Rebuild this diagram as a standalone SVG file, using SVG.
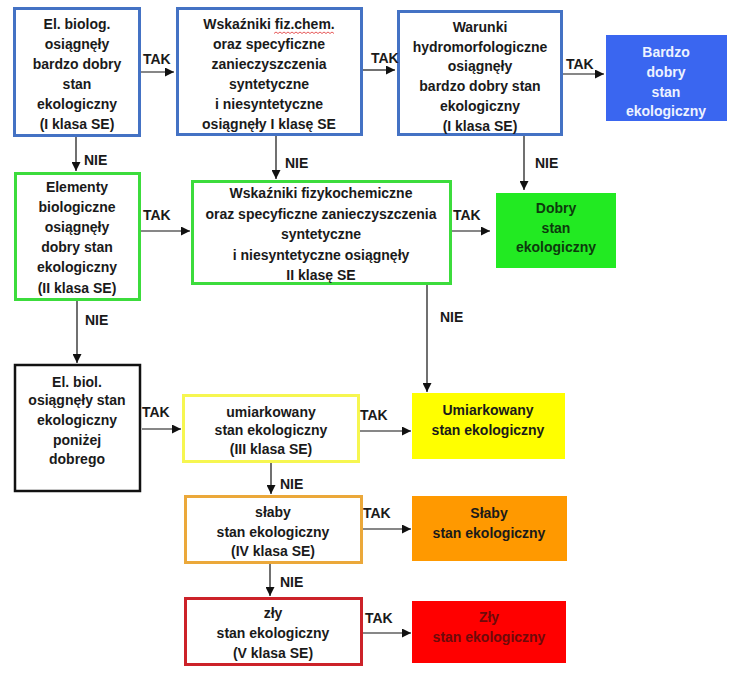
<svg xmlns="http://www.w3.org/2000/svg" width="741" height="675" viewBox="0 0 741 675">
<defs>
<style>
text{font-family:"Liberation Sans",Arial,sans-serif;font-weight:bold;font-size:14px;fill:#1a1a1a;text-anchor:middle}
.lbl{text-anchor:start}
.box{fill:#fff;stroke-width:3}
.blue{stroke:#4472c4}
.green{stroke:#3cdc3c}
.black{stroke:#111;stroke-width:2.5}
.yellow{stroke:#f6f650}
.orange{stroke:#eba83a}
.red{stroke:#cc2229}
.conn line{stroke:#111;stroke-width:1.2;marker-end:url(#ah)}
</style>
<marker id="ah" viewBox="0 0 10 10" refX="10" refY="5" markerWidth="9" markerHeight="9" markerUnits="userSpaceOnUse" orient="auto"><path d="M0,0L10,5L0,10z" fill="#111"/></marker>
</defs>
<rect width="741" height="675" fill="#fff"/>

<g id="n1"><rect class="box blue" x="14.5" y="8.5" width="125" height="127"/>
<text x="77" y="29">El. biolog.</text><text x="77" y="49">osiągnęły</text><text x="77" y="69">bardzo dobry</text><text x="77" y="89">stan</text><text x="77" y="109">ekologiczny</text><text x="77" y="129">(I klasa SE)</text></g>

<g id="n2"><rect class="box blue" x="177.5" y="8.5" width="184" height="126"/>
<text x="269" y="29">Wskaźniki fiz.chem.</text><text x="269" y="49">oraz specyficzne</text><text x="269" y="69">zanieczyszczenia</text><text x="269" y="89">syntetyczne</text><text x="269" y="109">i niesyntetyczne</text><text x="269" y="129">osiągnęły I klasę SE</text>
<path d="M274,33.5 l2,-1.5 l2,1.5 l2,-1.5 l2,1.5 l2,-1.5 l2,1.5 l2,-1.5 l2,1.5 l2,-1.5 l2,1.5 l2,-1.5 l2,1.5 l2,-1.5 l2,1.5 l2,-1.5 l2,1.5 l2,-1.5 l2,1.5 l2,-1.5 l2,1.5 l2,-1.5 l2,1.5 l2,-1.5 l2,1.5 l2,-1.5 l2,1.5 l2,-1.5 l2,1.5 l2,-1.5 l2,1.5" fill="none" stroke="#e03030" stroke-width="0.8"/></g>

<g id="n3"><rect class="box blue" x="398.5" y="11.5" width="163" height="123"/>
<text x="480" y="32">Warunki</text><text x="480" y="52">hydromorfologiczne</text><text x="480" y="71">osiągnęły</text><text x="480" y="91">bardzo dobry stan</text><text x="480" y="111">ekologiczny</text><text x="480" y="131">(I klasa SE)</text></g>

<g id="n4"><rect x="606" y="35" width="121" height="86" fill="#3a66f0"/>
<text x="666" y="57" style="fill:#eef3ff">Bardzo</text><text x="666" y="77" style="fill:#eef3ff">dobry</text><text x="666" y="97" style="fill:#eef3ff">stan</text><text x="666" y="116" style="fill:#eef3ff">ekologiczny</text></g>

<g id="n5"><rect class="box green" x="15.5" y="173.5" width="124" height="126"/>
<text x="77" y="192">Elementy</text><text x="77" y="212">biologiczne</text><text x="77" y="232">osiągnęły</text><text x="77" y="252">dobry stan</text><text x="77" y="272">ekologiczny</text><text x="77" y="293">(II klasa SE)</text></g>

<g id="n6"><rect class="box green" x="192.5" y="181.5" width="258" height="102"/>
<text x="321" y="198">Wskaźniki fizykochemiczne</text><text x="321" y="218.5">oraz specyficzne zanieczyszczenia</text><text x="321" y="239">syntetyczne</text><text x="321" y="259.5">i niesyntetyczne osiągnęły</text><text x="321" y="280">II klasę SE</text></g>

<g id="n7"><rect x="496" y="193" width="120" height="75" fill="#22ea22"/>
<text x="556" y="213" style="fill:#0d3a0d">Dobry</text><text x="556" y="233" style="fill:#0d3a0d">stan</text><text x="556" y="252" style="fill:#0d3a0d">ekologiczny</text></g>

<g id="n8"><rect class="box black" x="15" y="365" width="125" height="126"/>
<text x="77" y="387">El. biol.</text><text x="77" y="405">osiągnęły stan</text><text x="77" y="425">ekologiczny</text><text x="77" y="445">poniżej</text><text x="77" y="464">dobrego</text></g>

<g id="n9"><rect class="box yellow" x="183.5" y="395.5" width="175" height="66"/>
<text x="271" y="417">umiarkowany</text><text x="271" y="435">stan ekologiczny</text><text x="271" y="454">(III klasa SE)</text></g>

<g id="n10"><rect x="412" y="393" width="153" height="66" fill="#ffff00"/>
<text x="488" y="415">Umiarkowany</text><text x="488" y="435">stan ekologiczny</text></g>

<g id="n11"><rect class="box orange" x="185.5" y="496.5" width="176" height="66"/>
<text x="273" y="517">słaby</text><text x="273" y="537">stan ekologiczny</text><text x="273" y="556">(IV klasa SE)</text></g>

<g id="n12"><rect x="412" y="496" width="155" height="65" fill="#ff9900"/>
<text x="489" y="518">Słaby</text><text x="489" y="538">stan ekologiczny</text></g>

<g id="n13"><rect class="box red" x="185.5" y="598.5" width="176" height="66"/>
<text x="273" y="618">zły</text><text x="273" y="638">stan ekologiczny</text><text x="273" y="658">(V klasa SE)</text></g>

<g id="n14"><rect x="412" y="601" width="154" height="62" fill="#ff0000"/>
<text x="489" y="622" style="fill:#6e0a0a">Zły</text><text x="489" y="642" style="fill:#6e0a0a">stan ekologiczny</text></g>

<g id="connectors" class="conn">
<line x1="141" y1="72" x2="174" y2="72"/>
<line x1="363" y1="70" x2="395" y2="70"/>
<line x1="563" y1="74" x2="604" y2="74"/>
<line x1="76" y1="137" x2="76" y2="171"/>
<line x1="276" y1="136" x2="276" y2="179"/>
<line x1="524" y1="136" x2="524" y2="190"/>
<line x1="141" y1="231" x2="190" y2="231"/>
<line x1="452" y1="231" x2="490" y2="231"/>
<line x1="77" y1="301" x2="77" y2="363"/>
<line x1="427" y1="285" x2="427" y2="392"/>
<line x1="142" y1="429" x2="181" y2="429"/>
<line x1="360" y1="431" x2="411" y2="431"/>
<line x1="271" y1="463" x2="271" y2="494"/>
<line x1="363" y1="529" x2="411" y2="529"/>
<line x1="270" y1="564" x2="270" y2="596"/>
<line x1="363" y1="633" x2="411" y2="633"/>
</g>
<g id="labels">
<text class="lbl" x="143" y="64">TAK</text>
<text class="lbl" x="371" y="63">TAK</text>
<text class="lbl" x="566" y="69">TAK</text>
<text class="lbl" x="84" y="165">NIE</text>
<text class="lbl" x="285" y="168">NIE</text>
<text class="lbl" x="535" y="168">NIE</text>
<text class="lbl" x="143" y="220">TAK</text>
<text class="lbl" x="453" y="220">TAK</text>
<text class="lbl" x="85" y="325">NIE</text>
<text class="lbl" x="440" y="322">NIE</text>
<text class="lbl" x="142" y="417">TAK</text>
<text class="lbl" x="360" y="420">TAK</text>
<text class="lbl" x="280" y="489">NIE</text>
<text class="lbl" x="363" y="518">TAK</text>
<text class="lbl" x="280" y="587">NIE</text>
<text class="lbl" x="365" y="623">TAK</text>
</g>
</svg>
